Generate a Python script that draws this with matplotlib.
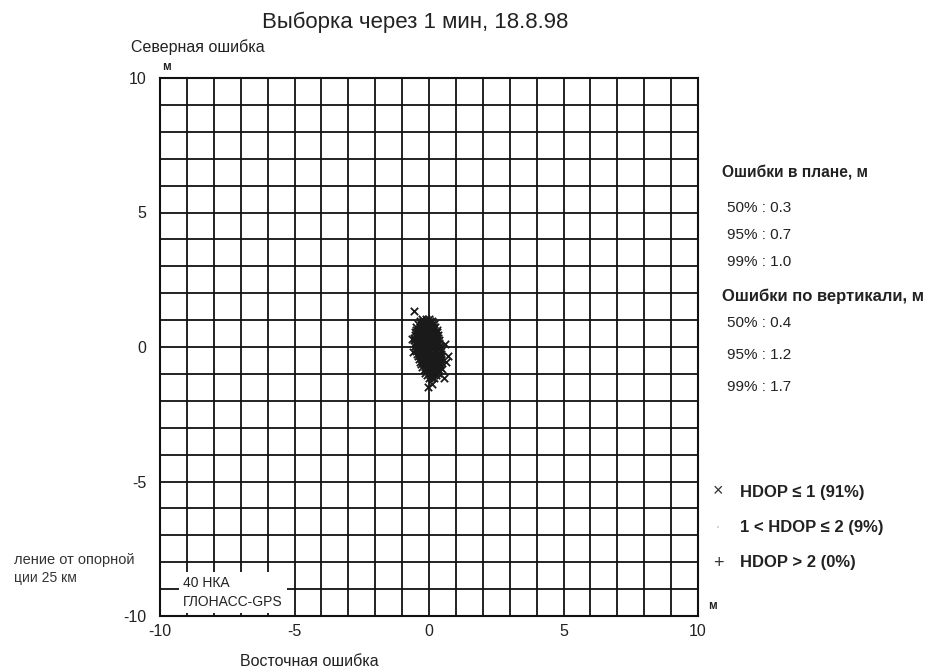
import numpy as np
import matplotlib
matplotlib.use('Agg')
import matplotlib.pyplot as plt

plt.rcParams['font.family'] = ['Liberation Sans', 'DejaVu Sans']
plt.rcParams['axes.unicode_minus'] = False

W, H = 946, 672

# точки облака: строки (северная ошибка, список восточных ошибок)
rows = [
    (1.05, [-0.25, -0.12, 0.0]),
    (0.95, [-0.35, -0.22, -0.09, 0.04, 0.10]),
    (0.85, [-0.42, -0.29, -0.16, -0.03, 0.10, 0.18]),
    (0.75, [-0.47, -0.34, -0.21, -0.08, 0.05, 0.18, 0.24]),
    (0.65, [-0.50, -0.37, -0.24, -0.11, 0.02, 0.15, 0.28]),
    (0.55, [-0.52, -0.39, -0.26, -0.13, 0.0, 0.13, 0.26, 0.30]),
    (0.45, [-0.53, -0.40, -0.27, -0.14, -0.01, 0.12, 0.25, 0.33]),
    (0.35, [-0.54, -0.41, -0.28, -0.15, -0.02, 0.11, 0.24, 0.35]),
    (0.25, [-0.54, -0.41, -0.28, -0.15, -0.02, 0.11, 0.24, 0.37]),
    (0.15, [-0.53, -0.40, -0.27, -0.14, -0.01, 0.12, 0.25, 0.39]),
    (0.05, [-0.52, -0.39, -0.26, -0.13, 0.0, 0.13, 0.26, 0.40]),
    (-0.05, [-0.50, -0.37, -0.24, -0.11, 0.02, 0.15, 0.28, 0.42]),
    (-0.15, [-0.48, -0.35, -0.22, -0.09, 0.04, 0.17, 0.30, 0.43]),
    (-0.25, [-0.45, -0.32, -0.19, -0.06, 0.07, 0.20, 0.33, 0.44]),
    (-0.35, [-0.42, -0.29, -0.16, -0.03, 0.10, 0.23, 0.36, 0.45]),
    (-0.45, [-0.38, -0.25, -0.12, 0.01, 0.14, 0.27, 0.40, 0.45]),
    (-0.55, [-0.34, -0.21, -0.08, 0.05, 0.18, 0.31, 0.44]),
    (-0.65, [-0.30, -0.17, -0.04, 0.09, 0.22, 0.35, 0.42]),
    (-0.75, [-0.25, -0.12, 0.01, 0.14, 0.27, 0.40]),
    (-0.85, [-0.20, -0.07, 0.06, 0.19, 0.32, 0.37]),
    (-0.95, [-0.14, -0.01, 0.12, 0.25, 0.32]),
    (-1.05, [-0.08, 0.05, 0.18, 0.26]),
    (-1.15, [0.0, 0.10, 0.18]),
]
outliers_x = [-0.56, -0.05, 0.10, 0.72, 0.55, 0.60, -0.62, -0.60, 0.50, 0.62]
outliers_y = [1.34, -1.50, -1.38, -0.33, -1.15, 0.10, 0.30, -0.20, -0.80, -0.55]

east = [x for y, xs in rows for x in xs] + outliers_x
north = [y for y, xs in rows for x in xs] + outliers_y

fig = plt.figure(figsize=(W / 100, H / 100), dpi=100)
ax = fig.add_axes([160 / W, 1 - 616 / H, 538 / W, 538 / H])

ax.scatter(east, north, marker='x', s=28, color='#1a1a1a', linewidths=1.3, zorder=3)

ax.set_xlim(-10, 10)
ax.set_ylim(-10, 10)
ax.set_xticks(np.arange(-10, 11, 1), minor=True)
ax.set_yticks(np.arange(-10, 11, 1), minor=True)
ax.set_xticks([-10, -5, 0, 5, 10])
ax.set_yticks([-10, -5, 0, 5, 10])
ax.grid(which='both', color='#111111', linewidth=1.3)
ax.tick_params(which='both', length=0, labelsize=11.5, colors='#222222')
ax.tick_params(axis='x', pad=6)
ax.tick_params(axis='y', pad=10)
for s in ax.spines.values():
    s.set_color('#111111')
    s.set_linewidth(1.5)

ax.text(-9.15, -9.12, '40 НКА\nГЛОНАСС-GPS', fontsize=10, color='#222222',
        va='center', ha='left', linespacing=1.4,
        bbox=dict(facecolor='white', edgecolor='none', pad=3), zorder=4)

def ftext(x, y, s, **kw):
    fig.text(x / W, 1 - y / H, s, **kw)

ftext(415, 22, 'Выборка через 1 мин, 18.8.98', fontsize=16, ha='center', va='center', color='#222222')
ftext(131, 47, 'Северная ошибка', fontsize=11.5, ha='left', va='center', color='#222222')
ftext(162, 67, 'м', fontsize=8.5, ha='left', va='center', color='#222222', fontweight='bold')
ftext(708, 606, 'м', fontsize=8.5, ha='left', va='center', color='#222222', fontweight='bold')
ftext(240, 661, 'Восточная ошибка', fontsize=11.5, ha='left', va='center', color='#222222')

ftext(14, 560, 'ление от опорной', fontsize=10.5, ha='left', va='center', color='#333333')
ftext(14, 578, 'ции 25 км', fontsize=10, ha='left', va='center', color='#333333')

ftext(722, 172, 'Ошибки в плане, м', fontsize=11.2, fontweight='bold', ha='left', va='center', color='#222222')
plan = ['50% : 0.3', '95% : 0.7', '99% : 1.0']
for i, t in enumerate(plan):
    ftext(727, 208 + 27 * i, t, fontsize=11, ha='left', va='center', color='#222222')
ftext(722, 296, 'Ошибки по вертикали, м', fontsize=12, fontweight='bold', ha='left', va='center', color='#222222')
vert = ['50% : 0.4', '95% : 1.2', '99% : 1.7']
for i, t in enumerate(vert):
    ftext(727, 323 + 32 * i, t, fontsize=11, ha='left', va='center', color='#222222')

legend_marks = ['×', '·', '+']
legend_labels = ['HDOP ≤ 1 (91%)', '1 < HDOP ≤ 2 (9%)', 'HDOP > 2 (0%)']
legend_alpha = [1.0, 0.25, 1.0]
for i, (m, t) in enumerate(zip(legend_marks, legend_labels)):
    yy = 492 + 35.5 * i
    ftext(718, yy, m, fontsize=13, ha='center', va='center', color='#333333', alpha=legend_alpha[i])
    ftext(740, yy, t, fontsize=12, fontweight='bold', ha='left', va='center', color='#222222')

fig.savefig('out.png', dpi=100)
